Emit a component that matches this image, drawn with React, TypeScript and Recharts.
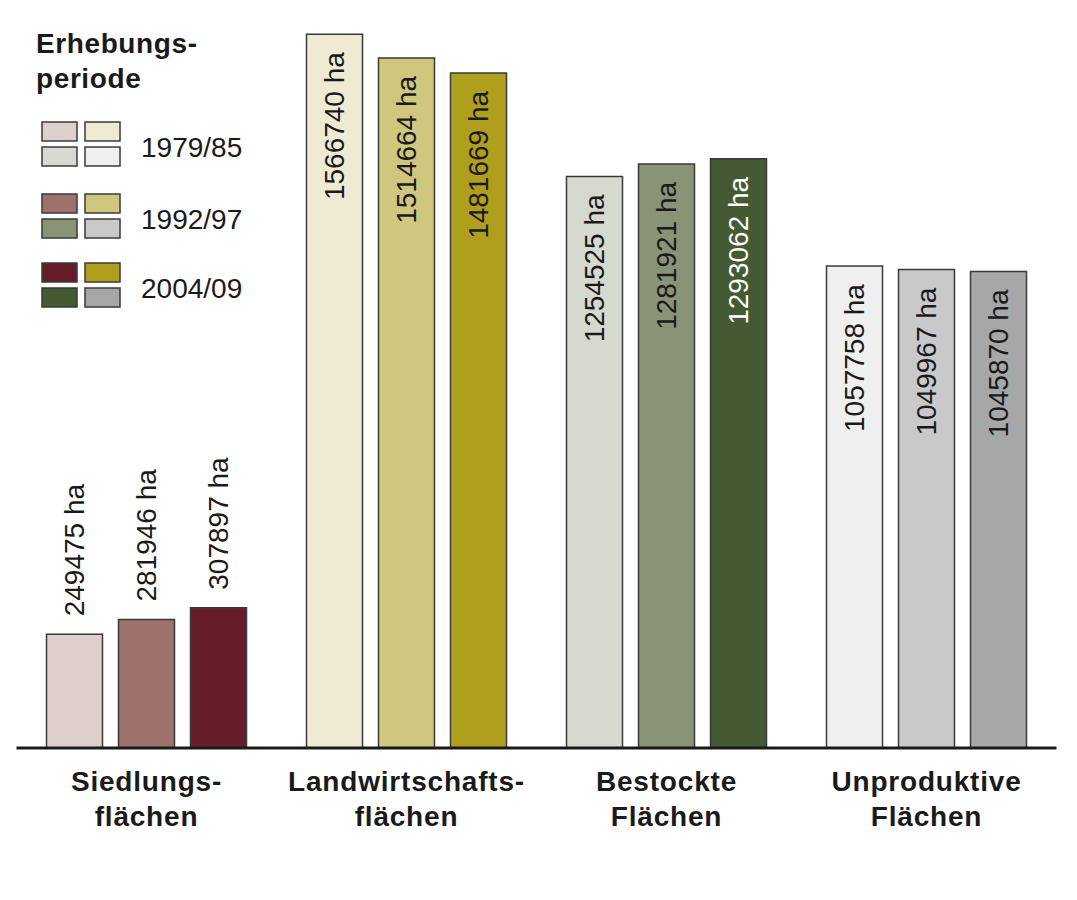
import { BarChart, Bar, XAxis, YAxis, Cell, LabelList } from 'recharts';

const categories = ['Siedlungs-|flächen', 'Landwirtschafts-|flächen', 'Bestockte|Flächen', 'Unproduktive|Flächen'];
const periods = ['1979/85', '1992/97', '2004/09'];
const values1979 = [249475, 1566740, 1254525, 1057758];
const values1992 = [281946, 1514664, 1281921, 1049967];
const values2004 = [307897, 1481669, 1293062, 1045870];

// one colour per category, per period
const colors1979 = ['#dccfcc', '#efead4', '#d6d9d0', '#efefef'];
const colors1992 = ['#9e726c', '#cfc77e', '#899476', '#c9c9cb'];
const colors2004 = ['#661c29', '#b09f1c', '#435a32', '#a6a7a9'];
const labelColors2004 = ['#1a1a1a', '#1a1a1a', '#ffffff', '#1a1a1a'];

const data = categories.map((name, i) => ({
  name,
  p1979: values1979[i],
  p1992: values1992[i],
  p2004: values2004[i],
}));

const periodColors = [colors1979, colors1992, colors2004];

const fmt = (v: number) => `${v} ha`;

function makeLabel(textColors?: string[]) {
  return (props: any) => {
    const { x, y, width, value, index } = props;
    const cx = x + width / 2 + 10;
    const outside = value < 500000;
    const ty = outside ? y - 18 : y + 18;
    const fill = textColors ? textColors[index] : '#1a1a1a';
    return (
      <text
        x={cx}
        y={ty}
        transform={`rotate(-90 ${cx} ${ty})`}
        textAnchor={outside ? 'start' : 'end'}
        fontFamily="'Liberation Sans', Arial, sans-serif"
        fontSize={28}
        fill={outside ? '#1a1a1a' : fill}
      >
        {fmt(value)}
      </text>
    );
  };
}

function CategoryTick(props: any) {
  const { x, y, payload } = props;
  const lines = String(payload.value).split('|');
  return (
    <g>
      {lines.map((l, i) => (
        <text
          key={i}
          x={x}
          y={y + 35 + i * 35}
          textAnchor="middle"
          fontFamily="'Liberation Sans', Arial, sans-serif"
          fontWeight="bold"
          fontSize={28}
          letterSpacing={0.8}
          fill="#1a1a1a"
        >
          {l}
        </text>
      ))}
    </g>
  );
}

function PeriodLegend() {
  const rowTops = [114, 186, 255];
  const title = { fontFamily: "'Liberation Sans', Arial, sans-serif", fontWeight: 'bold' as const, fontSize: 28, letterSpacing: 0.6, fill: '#1a1a1a' };
  return (
    <svg width={260} height={320} style={{ display: 'block' }}>
      <text x={28} y={45} {...title}>
        Erhebungs-
      </text>
      <text x={28} y={80} {...title}>
        periode
      </text>
      {periods.map((p, i) => {
        const c = periodColors[i];
        const top = rowTops[i];
        const sw = [
          [34, top, c[0]],
          [77, top, c[1]],
          [34, top + 25, c[2]],
          [77, top + 25, c[3]],
        ];
        return (
          <g key={p}>
            {sw.map(([sx, sy, col], k) => (
              <rect key={k} x={sx as number} y={sy as number} width={35} height={19} fill={col as string} stroke="#3a3a3a" strokeWidth={1.5} />
            ))}
            <text x={133} y={top + 35} fontFamily="'Liberation Sans', Arial, sans-serif" fontSize={28} fill="#1a1a1a">
              {p}
            </text>
          </g>
        );
      })}
    </svg>
  );
}

export default function App() {
  const series = [
    { key: 'p1979', colors: colors1979 },
    { key: 'p1992', colors: colors1992 },
    { key: 'p2004', colors: colors2004, textColors: labelColors2004 },
  ];
  return (
    <div style={{ position: 'relative', width: 1061, height: 880 }}>
      <BarChart
        width={1061}
        height={880}
        data={data}
        margin={{ top: 11, right: 12.5, bottom: 40, left: 8.5 }}
        barSize={56}
        barGap={16}
      >
        <XAxis
          dataKey="name"
          height={100}
          axisLine={{ stroke: '#1a1a1a', strokeWidth: 3 }}
          tickLine={false}
          tick={<CategoryTick />}
          interval={0}
        />
        <YAxis hide width={0} domain={[0, 1600000]} />
        {series.map((s) => (
          <Bar key={s.key} dataKey={s.key} isAnimationActive={false} stroke="#3a3a3a" strokeWidth={1.5}>
            {data.map((_, i) => (
              <Cell key={i} fill={s.colors[i]} />
            ))}
            <LabelList dataKey={s.key} content={makeLabel(s.textColors)} />
          </Bar>
        ))}
      </BarChart>
      <div style={{ position: 'absolute', left: 0, top: 0 }}>
        <PeriodLegend />
      </div>
    </div>
  );
}
